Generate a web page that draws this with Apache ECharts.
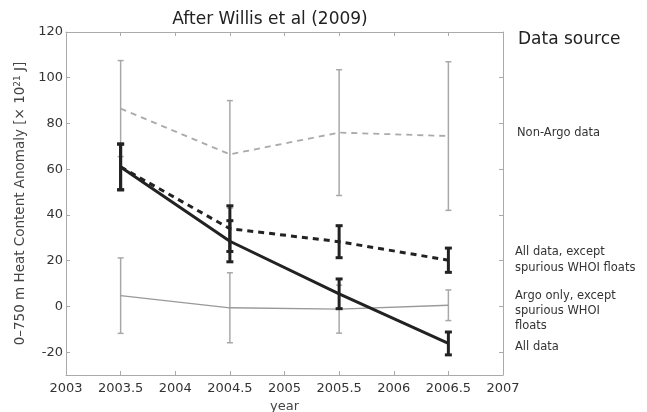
<!DOCTYPE html>
<html><head><meta charset="utf-8">
<script src="https://cdn.jsdelivr.net/npm/echarts@6/dist/echarts.min.js"></script>
<style>html,body{margin:0;padding:0;background:#fff}#c{width:647px;height:412px}</style>
</head><body><div id="c"></div>
<script>
var years = [2003.5, 2004.5, 2005.5, 2006.5];
var nonArgo = [86.5, 66.5, 76, 74.5];
var nonArgoErr = [21, 23.5, 27.5, 32.5];
var allExcept = [61, 34, 28.3, 20.2];
var allExceptErr = [10, 10, 7, 5.3];
var argoOnly = [4.7, -0.6, -1.2, 0.5];
var argoOnlyErr = [16.5, 15.3, 10.5, 6.7];
var allData = [61, 28.5, 5.5, -16.2];
var allDataErr = [10, 9, 6.5, 5];
var yTicks = [-20, 0, 20, 40, 60, 80, 100, 120];
var labels = ['Non-Argo data', 'All data, except\nspurious WHOI floats', 'Argo only, except\nspurious WHOI\nfloats', 'All data'];

var FONT = 'DejaVu Sans, Verdana, sans-serif';
function pts(v){ return years.map(function(x,i){ return [x, v[i]]; }); }
function errData(v,e){ return years.map(function(x,i){ return [x, v[i]-e[i], v[i]+e[i]]; }); }
function errSeries(v,e,color,w,cap,z){
  return {
    type:'custom', z:z, silent:true,
    data: errData(v,e),
    renderItem:function(params, api){
      var lo = api.coord([api.value(0), api.value(1)]);
      var hi = api.coord([api.value(0), api.value(2)]);
      var st = {stroke:color, lineWidth:w};
      return {type:'group', children:[
        {type:'line', shape:{x1:lo[0],y1:lo[1],x2:hi[0],y2:hi[1]}, style:st},
        {type:'line', shape:{x1:lo[0]-cap,y1:lo[1],x2:lo[0]+cap,y2:lo[1]}, style:st},
        {type:'line', shape:{x1:hi[0]-cap,y1:hi[1],x2:hi[0]+cap,y2:hi[1]}, style:st}
      ]};
    }
  };
}
function lineSeries(v,color,w,type,z){
  return {type:'line', data:pts(v), z:z, symbol:'none', silent:true,
    lineStyle:{color:color, width:w, type:type}};
}
var axisCol = '#aaa';
var chart = echarts.init(document.getElementById('c'), null, {renderer:'canvas'});
chart.setOption({
  animation:false,
  backgroundColor:'#fff',
  title:{text:'After Willis et al (2009)', left:265, top:6, textAlign:'center',
    textStyle:{fontFamily:FONT, fontSize:17, fontWeight:'normal', color:'#222'}},
  grid:{left:66, top:32, right:144, bottom:37, containLabel:false, outerBoundsMode:'none'},
  xAxis:[{
    type:'value', min:2003, max:2007, interval:0.5, position:'bottom',
    name:'year', nameLocation:'middle', nameGap:22,
    nameTextStyle:{fontFamily:FONT, fontSize:13, color:'#444'},
    axisLine:{onZero:false, lineStyle:{color:axisCol}},
    axisTick:{inside:true, length:4, lineStyle:{color:axisCol}},
    axisLabel:{fontFamily:FONT, fontSize:13, color:'#333', margin:7, formatter:function(v){return String(v);}},
    splitLine:{show:false}
  },{
    type:'value', min:2003, max:2007, interval:0.5, position:'top',
    axisLine:{onZero:false, lineStyle:{color:axisCol}},
    axisTick:{inside:true, length:4, lineStyle:{color:axisCol}},
    axisLabel:{show:false}, splitLine:{show:false}
  }],
  yAxis:[{
    type:'value', min:-30, max:120, interval:10, position:'left',
    name:'0\u2013750 m Heat Content Anomaly [\u00d7 10{sup|21} J]',
    nameLocation:'middle', nameRotate:90, nameGap:33,
    nameTextStyle:{fontFamily:FONT, fontSize:13.5, color:'#444',
      rich:{sup:{fontFamily:FONT, fontSize:9, color:'#444', verticalAlign:'top', padding:[0,0,6,0]}}},
    axisLine:{show:true, onZero:false, lineStyle:{color:axisCol}},
    axisTick:{inside:true, length:4, customValues:yTicks, lineStyle:{color:axisCol}},
    axisLabel:{fontFamily:FONT, fontSize:13, color:'#333', margin:3, customValues:yTicks},
    splitLine:{show:false}
  },{
    type:'value', min:-30, max:120, interval:10, position:'right',
    axisLine:{show:true, onZero:false, lineStyle:{color:axisCol}},
    axisTick:{inside:true, length:4, customValues:yTicks, lineStyle:{color:axisCol}},
    axisLabel:{show:false}, splitLine:{show:false}
  }],
  graphic:[
    {type:'text', left:518, top:31, style:{text:'Data source', font:'17px '+FONT, fill:'#222'}},
    {type:'text', left:517, top:126, style:{text:labels[0], font:'11.5px '+FONT, fill:'#333', lineHeight:15}},
    {type:'text', left:515, top:244, style:{text:labels[1], font:'11.5px '+FONT, fill:'#333', lineHeight:16}},
    {type:'text', left:515, top:289, style:{text:labels[2], font:'11.5px '+FONT, fill:'#333', lineHeight:15}},
    {type:'text', left:515, top:340, style:{text:labels[3], font:'11.5px '+FONT, fill:'#333', lineHeight:15}}
  ],
  series:[
    errSeries(nonArgo, nonArgoErr, '#a8a8a8', 1.5, 3, 2),
    errSeries(argoOnly, argoOnlyErr, '#a8a8a8', 1.5, 3, 2),
    lineSeries(nonArgo, '#aaa', 1.8, [6,5], 3),
    lineSeries(argoOnly, '#999', 1.3, 'solid', 3),
    errSeries(allExcept, allExceptErr, '#222', 3, 3.5, 4),
    errSeries(allData, allDataErr, '#222', 3, 3.5, 4),
    lineSeries(allExcept, '#222', 3, [6,5], 5),
    lineSeries(allData, '#222', 3, 'solid', 5)
  ]
});
</script></body></html>
